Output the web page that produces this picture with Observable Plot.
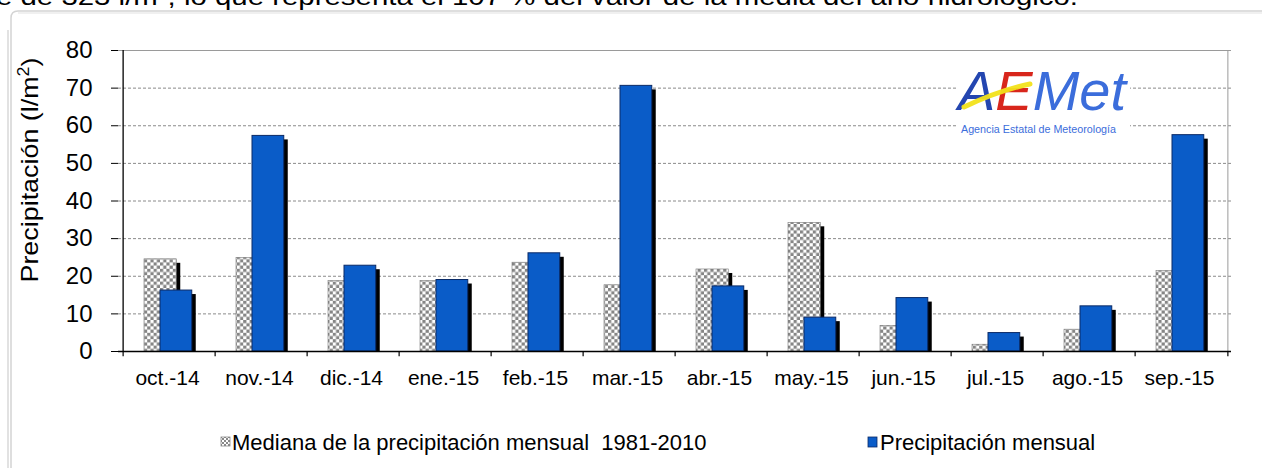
<!DOCTYPE html>
<html><head><meta charset="utf-8">
<script src="https://cdn.jsdelivr.net/npm/d3@7"></script>
<script src="https://cdn.jsdelivr.net/npm/@observablehq/plot@0.6"></script>
<style>
body{margin:0;background:#fff;width:1262px;height:468px;overflow:hidden;position:relative;font-family:"Liberation Sans",Arial,sans-serif;}
#chart{position:absolute;left:0;top:0;}
#overlay{position:absolute;left:0;top:0;}
</style></head><body>
<div id="chart"></div>
<svg id="overlay" width="1262" height="468" xmlns="http://www.w3.org/2000/svg"></svg>
<script>
// ---- data ----
const months = ["oct.-14","nov.-14","dic.-14","ene.-15","feb.-15","mar.-15","abr.-15","may.-15","jun.-15","jul.-15","ago.-15","sep.-15"];
const mediana = [24.5, 24.9, 18.7, 18.7, 23.6, 17.6, 21.8, 34.2, 6.8, 1.8, 5.8, 21.4];
const precipitacion = [16.2, 57.3, 22.8, 19.0, 26.1, 70.6, 17.3, 9.0, 14.2, 4.9, 12.0, 57.5];
const yTicks = [0, 10, 20, 30, 40, 50, 60, 70, 80];
const seriesNames = ["Mediana de la precipitación mensual  1981-2010", "Precipitación mensual"];
const yLabel = "Precipitación (l/m";
const headerText = "e de 323 l/m², lo que representa el 107 % del valor de la media del año hidrológico.";

const data = months.map((m, i) => ({m, med: mediana[i], pre: precipitacion[i]}));

const W = 1262, H = 400, ML = 118, MR = 31, MT = 50, MB = 49;
const bw = (W - ML - MR) / months.length;
const blue = "#0a5cc8";
const font = "'Liberation Sans', Arial, sans-serif";

const chart = Plot.plot({
  width: W, height: H, marginLeft: ML, marginRight: MR, marginTop: MT, marginBottom: MB,
  style: {fontFamily: font, background: "transparent", color: "#000", overflow: "visible"},
  x: {domain: months, padding: 0},
  y: {domain: [0, 80]},
  marks: [
    Plot.ruleY(yTicks.filter(d => d > 0 && d < 80), {y: d => d, stroke: "#8a8a8a", strokeDasharray: "3,2", strokeWidth: 1}),
    Plot.ruleY([80], {stroke: "#9a9a9a", strokeWidth: 1}),
    Plot.ruleX([months[months.length - 1]], {dx: bw / 2, y1: 0, y2: 80, stroke: "#9a9a9a"}),
    // median shadow + bar
    Plot.barY(data, {x: "m", y: "med", insetLeft: 21, insetRight: bw - 54, dx: 4, dy: 4, fill: "#000", clip: true}),
    Plot.barY(data, {x: "m", y: "med", insetLeft: 21, insetRight: bw - 54, fill: "url(#checker)", stroke: "#777", strokeWidth: 0.6}),
    // precip shadow + bar
    Plot.barY(data, {x: "m", y: "pre", insetLeft: 37, insetRight: bw - 69.5, dx: 4, dy: 4, fill: "#000", clip: true}),
    Plot.barY(data, {x: "m", y: "pre", insetLeft: 37, insetRight: bw - 69.5, fill: blue, stroke: "#0b2a66", strokeWidth: 1}),
    // axes lines
    Plot.ruleY([0], {stroke: "#000", strokeWidth: 1.3}),
    Plot.ruleX([months[0]], {dx: -bw / 2, y1: 0, y2: 80, stroke: "#000", strokeWidth: 1.3}),
    Plot.ruleX(months, {dx: -bw / 2, y1: 0, y2: -1.4, stroke: "#000", strokeWidth: 1.2}),
    Plot.ruleX([months[months.length - 1]], {dx: bw / 2, y1: 0, y2: -1.4, stroke: "#000", strokeWidth: 1.2}),
    Plot.axisY({ticks: yTicks, tickSize: 7, tickPadding: 19, fontSize: 24, label: null, stroke: "#000"}),
    Plot.axisX({tickSize: 0, tickPadding: 19, fontSize: 21, label: null, dx: -2})
  ]
});
document.getElementById("chart").appendChild(chart);

// checker pattern inside the plot svg
const svgSel = d3.select(chart.tagName.toLowerCase() === "svg" ? chart : chart.querySelector("svg"));
const defs = svgSel.insert("defs", ":first-child");
const pat = defs.append("pattern").attr("id", "checker").attr("patternUnits", "userSpaceOnUse")
  .attr("width", 6.4).attr("height", 6.4);
pat.append("rect").attr("width", 6.4).attr("height", 6.4).attr("fill", "#fff");
pat.append("rect").attr("width", 3.2).attr("height", 3.2).attr("fill", "#858585");
pat.append("rect").attr("x", 3.2).attr("y", 3.2).attr("width", 3.2).attr("height", 3.2).attr("fill", "#858585");

// ---- overlay: header text, frame, y label, logo, legend ----
const ov = d3.select("#overlay");
const odefs = ov.append("defs");
const p2 = odefs.append("pattern").attr("id", "checkerSmall").attr("patternUnits", "userSpaceOnUse")
  .attr("width", 4).attr("height", 4);
p2.append("rect").attr("width", 4).attr("height", 4).attr("fill", "#fff");
p2.append("rect").attr("width", 2).attr("height", 2).attr("fill", "#888");
p2.append("rect").attr("x", 2).attr("y", 2).attr("width", 2).attr("height", 2).attr("fill", "#888");

ov.append("text").attr("x", -4).attr("y", 5).attr("font-family", font).attr("font-size", 24)
  .attr("textLength", 1082).attr("lengthAdjust", "spacingAndGlyphs").text(headerText);

ov.append("path").attr("d", "M 11 468 L 11 18 Q 11 11 18 11 L 1262 11").attr("fill", "none").attr("stroke", "#d4d4d4").attr("stroke-width", 1.5);
ov.append("path").attr("d", "M 8 468 L 8 30").attr("fill", "none").attr("stroke", "#cfcfcf").attr("stroke-width", 1.2);
ov.append("path").attr("d", "M 18 13 L 1262 13").attr("stroke", "#f0f0f0").attr("stroke-width", 2);

// y label
const yl = ov.append("text").attr("transform", "translate(38,170) rotate(-90)")
  .attr("text-anchor", "middle").attr("font-family", font).attr("font-size", 24)
  .attr("textLength", 225).attr("lengthAdjust", "spacingAndGlyphs");
yl.append("tspan").text(yLabel);
yl.append("tspan").attr("dy", -9).attr("font-size", 16).text("2");
yl.append("tspan").attr("dy", 9).text(")");

// logo
const lfont = "'Liberation Sans Narrow','Liberation Sans',sans-serif";
const lg = ov.append("g");
lg.append("rect").attr("x", 956).attr("y", 53).attr("width", 174).attr("height", 82).attr("fill", "#fff");
const logoText = lg.append("text").attr("x", 958).attr("y", 110).attr("font-family", lfont)
  .attr("font-size", 55).attr("font-style", "italic")
  .attr("textLength", 168).attr("lengthAdjust", "spacingAndGlyphs");
logoText.append("tspan").attr("fill", "#2446b0").text("A");
logoText.append("tspan").attr("fill", "#d8261c").text("E");
logoText.append("tspan").attr("fill", "#3b6ddb").text("Met");
lg.append("path").attr("d", "M 964 107 C 985 97, 1010 88, 1030 84").attr("fill", "none").attr("stroke", "#f2e21a").attr("stroke-width", 5).attr("stroke-linecap", "round").attr("opacity", 0.95);
lg.append("text").attr("x", 961).attr("y", 133).attr("font-family", lfont)
  .attr("font-size", 10.5).attr("fill", "#3b6ddb").attr("textLength", 155).attr("lengthAdjust", "spacingAndGlyphs")
  .text("Agencia Estatal de Meteorología");

// legend
ov.append("rect").attr("x", 221).attr("y", 437).attr("width", 9).attr("height", 9).attr("fill", "url(#checkerSmall)").attr("stroke", "#888").attr("stroke-width", 0.8);
ov.append("text").attr("x", 232).attr("y", 450).attr("font-family", font).attr("font-size", 22)
  .attr("xml:space", "preserve").style("white-space", "pre").text(seriesNames[0]);
ov.append("rect").attr("x", 868).attr("y", 437).attr("width", 9).attr("height", 10).attr("fill", blue).attr("stroke", "#0b2a66").attr("stroke-width", 0.8);
ov.append("text").attr("x", 880).attr("y", 450).attr("font-family", font).attr("font-size", 22).text(seriesNames[1]);
</script>
</body></html>
